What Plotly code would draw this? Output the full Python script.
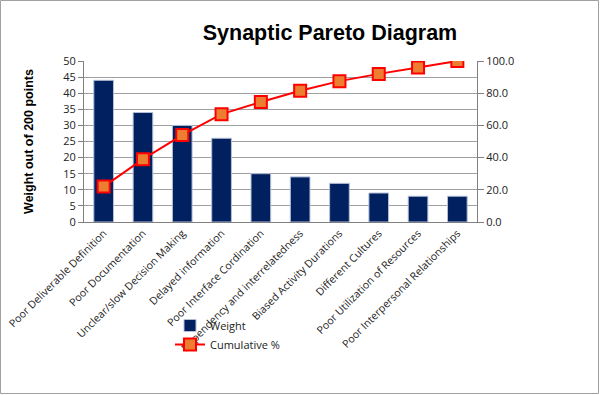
import plotly.graph_objects as go

categories = ["Poor Deliverable Definition", "Poor Documentation", "Unclear/slow Decision Making",
              "Delayed information", "Poor Interface Cordination", "Dependency and interrelatedness",
              "Biased Activity Durations", "Different Cultures", "Poor Utilization of Resources",
              "Poor Interpersonal Relationships"]
weights = [44, 34, 30, 26, 15, 14, 12, 9, 8, 8]
cumulative = [22.0, 39.0, 54.0, 67.0, 74.5, 81.5, 87.5, 92.0, 96.0, 100.0]

W, H = 600, 395
L, R, T, B = 84, 477, 61, 222
ml, mr, mt, mb = L, W - R, T, H - B
pw, ph = R - L, B - T

fig = go.Figure()
fig.add_trace(go.Bar(x=list(range(len(categories))), y=weights, name="Weight",
                     marker=dict(color="#002060", line=dict(color="#b4bfd6", width=1)),
                     width=0.5))
fig.add_trace(go.Scatter(x=list(range(len(categories))), y=cumulative, name="Cumulative %", yaxis="y2",
                         mode="lines+markers", line=dict(color="#ff0000", width=2),
                         marker=dict(symbol="square", size=12, color="#ed7d31",
                                     line=dict(color="#ff0000", width=2))))

font_fam = "Open Sans, DejaVu Sans, sans-serif"
fig.update_layout(
    width=W, height=H, margin=dict(l=ml, r=mr, t=mt, b=mb, autoexpand=False),
    paper_bgcolor="white", plot_bgcolor="white",
    title=dict(text="<b>Synaptic Pareto Diagram</b>", x=330 / W, xanchor="center",
               y=1 - 32 / H, yanchor="middle",
               font=dict(family="Liberation Sans, Arial, sans-serif", size=21.5, color="black")),
    xaxis=dict(range=[-0.5, len(categories) - 0.5], tickmode="array",
               tickvals=list(range(len(categories))), ticktext=categories, tickangle=-45,
               showline=True, linecolor="#808080", linewidth=1, ticks="",
               tickfont=dict(family=font_fam, size=10.6, color="#222")),
    yaxis=dict(range=[0, 50], dtick=5, showgrid=True, gridcolor="#a0a0a0", gridwidth=1,
               showline=True, linecolor="#808080", ticks="outside", ticklen=5, tickcolor="#808080",
               tickfont=dict(family=font_fam, size=11, color="#222"),
               title=dict(text="<b>Weight out of 200 points</b>", standoff=26,
                          font=dict(family="Liberation Sans, Arial, sans-serif", size=12.5, color="black")),
               zeroline=False),
    yaxis2=dict(range=[0, 100], dtick=20, tickformat=".1f", overlaying="y", side="right",
                showgrid=False, showline=True, linecolor="#808080", ticks="outside", ticklen=6,
                tickcolor="#808080", tickfont=dict(family=font_fam, size=11, color="#222"),
                zeroline=False),
    showlegend=True,
    legend=dict(x=(170 - L) / pw, y=(B - 311) / ph, xanchor="left", yanchor="top",
                bgcolor="rgba(0,0,0,0)", font=dict(family=font_fam, size=11, color="#222"),
                tracegroupgap=0, itemwidth=30),
    bargap=0.5,
)
# outer border
fig.add_shape(type="rect", xref="paper", yref="paper",
              x0=(0.5 - L) / pw, x1=(W - 1.5 - L) / pw,
              y0=(B - (H - 1.5)) / ph, y1=(B - 0.5) / ph,
              line=dict(color="#a0a0a0", width=1), fillcolor="rgba(0,0,0,0)", layer="below")

fig.write_html("out.html")
